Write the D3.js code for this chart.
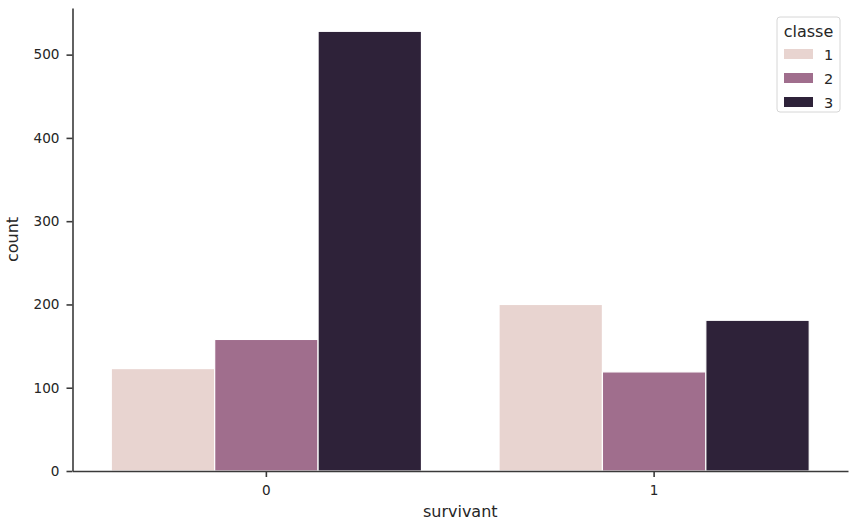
<!DOCTYPE html>
<html>
<head>
<meta charset="utf-8">
<script src="https://cdn.jsdelivr.net/npm/d3@7"></script>
<style>
  body { margin: 0; background: #fff; }
  svg { font-family: "DejaVu Sans", sans-serif; }
</style>
</head>
<body>
<div id="chart"></div>
<script>
var survivant = ["0", "1"];
var classes = [1, 2, 3];
var counts1 = [123, 200];
var counts2 = [158, 119];
var counts3 = [528, 181];
var colors = ["#e8d4d0", "#a06e8d", "#2e2239"];
var yTicks = [0, 100, 200, 300, 400, 500];

var width = 858, height = 530;
var margin = { top: 8, right: 10, bottom: 59, left: 72.5 };
var w = width - margin.left - margin.right;
var h = height - margin.top - margin.bottom;

var svg = d3.select("#chart")
  .append("svg")
  .attr("width", width)
  .attr("height", height)
  .append("g")
  .attr("transform", "translate(" + margin.left + "," + margin.top + ")");

var x = d3.scaleBand()
  .domain(survivant)
  .range([0, w])
  .paddingInner(0.2)
  .paddingOuter(0.1);

var x1 = d3.scaleBand()
  .domain(classes)
  .range([0, x.bandwidth()]);

var y = d3.scaleLinear()
  .domain([0, 556])
  .range([h, 0]);

var series = [counts1, counts2, counts3];

classes.forEach(function (c, i) {
  svg.selectAll(".bar" + c)
    .data(series[i])
    .enter()
    .append("rect")
    .attr("x", function (d, j) { return x(survivant[j]) + x1(c); })
    .attr("y", function (d) { return y(d); })
    .attr("width", x1.bandwidth())
    .attr("height", function (d) { return h - y(d); })
    .attr("fill", colors[i])
    .attr("stroke", "#fff")
    .attr("stroke-width", 1.2);
});

function styleAxis(g) {
  g.selectAll("path, line").attr("stroke", "#3a3a3a").attr("stroke-width", 1.6);
  g.selectAll("text")
    .attr("fill", "#262626")
    .style("font-family", "DejaVu Sans, sans-serif")
    .style("font-size", "13.6px");
}

svg.append("g")
  .attr("transform", "translate(0," + h + ")")
  .call(d3.axisBottom(x).tickSize(6).tickSizeOuter(0).tickPadding(8))
  .call(styleAxis);

svg.append("g")
  .call(d3.axisLeft(y).tickValues(yTicks).tickSize(6).tickSizeOuter(0).tickPadding(7))
  .call(styleAxis);

svg.append("text")
  .attr("x", w / 2)
  .attr("y", h + 46)
  .attr("text-anchor", "middle")
  .style("font-size", "16px")
  .style("fill", "#262626")
  .text("survivant");

svg.append("text")
  .attr("transform", "rotate(-90)")
  .attr("x", -h / 2)
  .attr("y", -55)
  .attr("text-anchor", "middle")
  .style("font-size", "16px")
  .style("fill", "#262626")
  .text("count");

// legend
var lg = svg.append("g")
  .attr("transform", "translate(" + (777 - margin.left) + "," + (17 - margin.top) + ")");

lg.append("rect")
  .attr("width", 63)
  .attr("height", 95)
  .attr("rx", 3)
  .attr("fill", "#fff")
  .attr("stroke", "#d6d6d6");

lg.append("text")
  .attr("x", 31.5)
  .attr("y", 20)
  .attr("text-anchor", "middle")
  .style("font-size", "16px")
  .style("fill", "#262626")
  .text("classe");

classes.forEach(function (c, i) {
  lg.append("rect")
    .attr("x", 7)
    .attr("y", 32 + i * 24)
    .attr("width", 29)
    .attr("height", 10)
    .attr("fill", colors[i]);
  lg.append("text")
    .attr("x", 47)
    .attr("y", 42.5 + i * 24)
    .style("font-size", "14.5px")
    .style("fill", "#262626")
    .text(c);
});
</script>
</body>
</html>
